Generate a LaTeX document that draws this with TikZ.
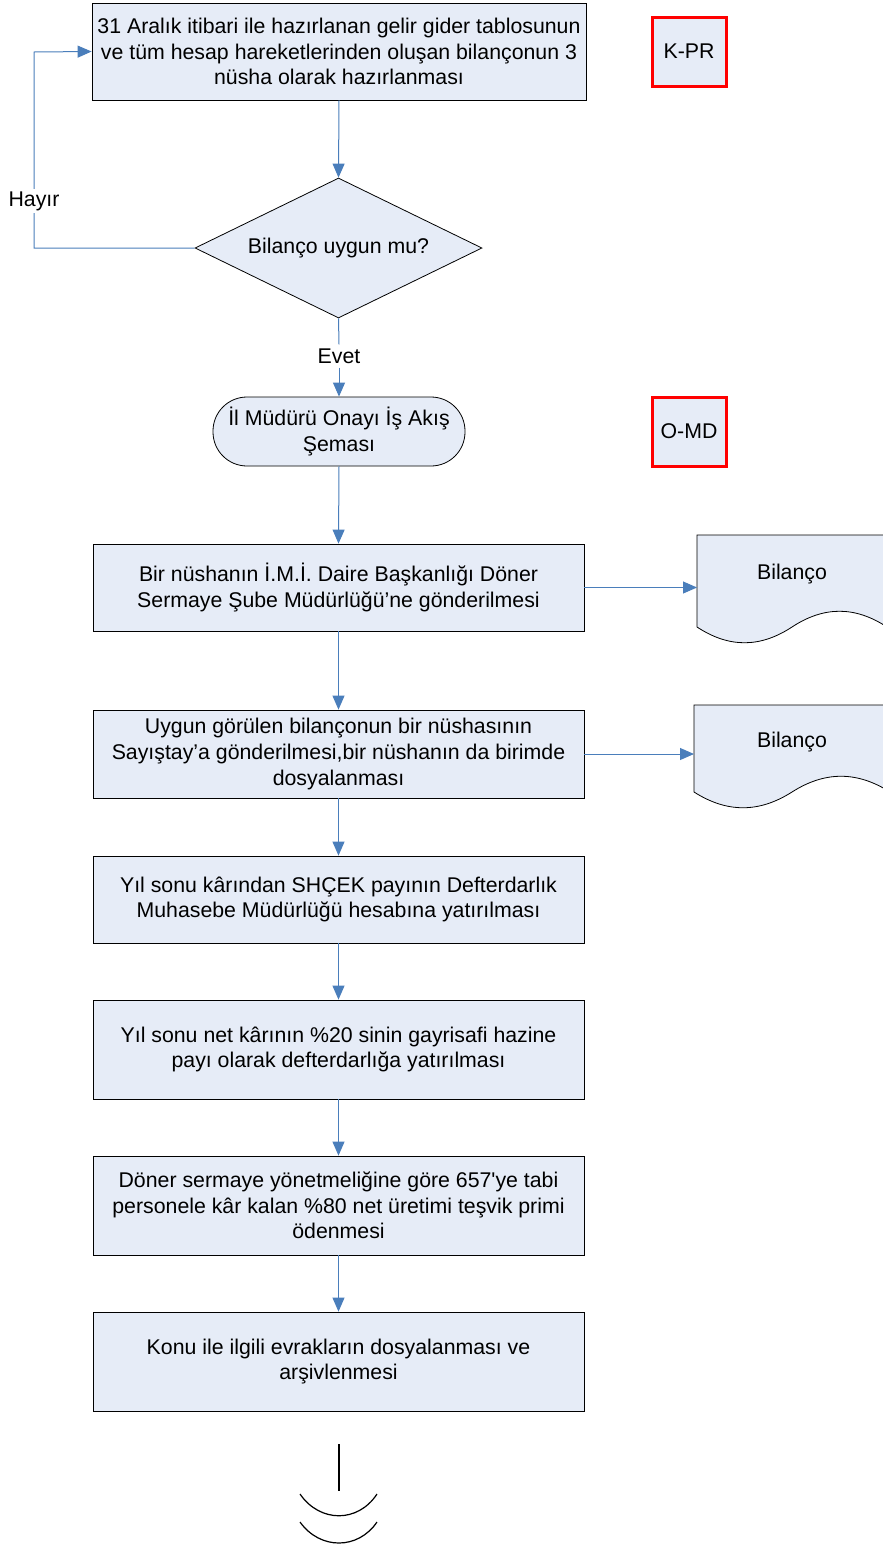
\documentclass[tikz,border=0pt]{standalone}
\usepackage{fontspec}
\setmainfont{Liberation Sans}
\usetikzlibrary{arrows.meta,shapes.geometric}
\definecolor{boxfill}{HTML}{E6ECF7}
\definecolor{conn}{HTML}{4A7EBB}
\tikzset{
  proc/.style={draw=black, line width=0.8pt, fill=boxfill, align=center, inner sep=0pt, minimum width=491pt, font=\fontsize{21.3}{25.7}\selectfont},
  tag/.style={draw=red, line width=3pt, fill=boxfill, inner sep=0pt, minimum width=74pt, minimum height=69pt, font=\fontsize{21.3}{25.7}\selectfont},
  conn/.style={draw=conn, line width=1pt},
  arr/.style={conn, -{Triangle[length=14pt,width=12pt]}},
  lbl/.style={fill=white, inner sep=2pt, font=\fontsize{21.3}{25.7}\selectfont},
  docline/.style={draw=black, line width=0.8pt, fill=boxfill},
}
\begin{document}
\begin{tikzpicture}[x=1pt,y=-1pt]
\clip (0,0) rectangle (883,1548);
\fill[white] (0,0) rectangle (883,1548);
% process boxes
\node[proc, minimum width=494pt, minimum height=97pt] (b1) at (339,51.5) {31 Aralık itibari ile hazırlanan gelir gider tablosunun\\ve tüm hesap hareketlerinden oluşan bilançonun 3\\nüsha olarak hazırlanması};
\node[tag] (kpr) at (689,51.5) {K-PR};
\node[diamond, draw=black, line width=0.8pt, fill=boxfill, minimum width=287pt, minimum height=140pt, inner sep=0pt, aspect=2.05, font=\fontsize{21.3}{25.7}\selectfont] (dia) at (338.5,248) {Bilanço uygun mu?};
\node[draw=black, line width=0.8pt, fill=boxfill, rounded corners=34pt, minimum width=252pt, minimum height=69pt, inner sep=0pt, align=center, font=\fontsize{21.3}{25.7}\selectfont] (term) at (339,431.5) {İl Müdürü Onayı İş Akış\\Şeması};
\node[tag] (omd) at (689,431.5) {O-MD};
\node[proc, minimum height=87pt] (b2) at (338.5,587.5) {Bir nüshanın İ.M.İ. Daire Başkanlığı Döner\\Sermaye Şube Müdürlüğü’ne gönderilmesi};
\node[proc, minimum height=88pt] (b3) at (338.5,754) {Uygun görülen bilançonun bir nüshasının\\Sayıştay’a gönderilmesi,bir nüshanın da birimde\\dosyalanması};
\node[proc, minimum height=87pt] (b4) at (338.5,899.5) {Yıl sonu kârından SHÇEK payının Defterdarlık\\Muhasebe Müdürlüğü hesabına yatırılması};
\node[proc, minimum height=99pt] (b5) at (338.5,1049.5) {Yıl sonu net kârının \%20 sinin gayrisafi hazine\\payı olarak defterdarlığa yatırılması};
\node[proc, minimum height=99pt] (b6) at (338.5,1205.5) {Döner sermaye yönetmeliğine göre 657\textquotesingle ye tabi\\personele kâr kalan \%80 net üretimi teşvik primi\\ödenmesi};
\node[proc, minimum height=99pt] (b7) at (338.5,1361.5) {Konu ile ilgili evrakların dosyalanması ve\\arşivlenmesi};
% documents
\path[docline] (697,535) -- (887,535) -- (887,627)
  .. controls (855,606) and (824,606) .. (792,627)
  .. controls (760,648) and (729,648) .. (697,627) -- cycle;
\node[inner sep=0pt, font=\fontsize{21.3}{25.7}\selectfont] (d1) at (792,574) {Bilanço};
\path[docline] (694,705) -- (890,705) -- (890,792)
  .. controls (857,771) and (825,771) .. (792,792)
  .. controls (759,813) and (727,813) .. (694,792) -- cycle;
\node[inner sep=0pt, font=\fontsize{21.3}{25.7}\selectfont] (d2) at (792,742) {Bilanço};
\coordinate (d1w) at (697,587.5);
\coordinate (d2w) at (694,754);
% connectors
\draw[arr] (b1.south) -- (dia.north);
\coordinate (hb) at (34,248);
\coordinate (ht) at (34,52);
\draw[arr] (dia.west) -- (hb) -- (ht) -- (b1.west);
\node[lbl] (hayir) at (34,201) {Hayır};
\node[lbl, inner sep=4pt] (evet) at (339,356) {Evet};
\draw[conn] (dia.south) -- (evet.north);
\draw[arr] (evet.south) -- (term.north);
\draw[arr] (term.south) -- (b2.north);
\draw[arr] (b2.east) -- (d1w);
\draw[arr] (b2.south) -- (b3.north);
\draw[arr] (b3.east) -- (d2w);
\draw[arr] (b3.south) -- (b4.north);
\draw[arr] (b4.south) -- (b5.north);
\draw[arr] (b5.south) -- (b6.north);
\draw[arr] (b6.south) -- (b7.north);
% off-page connector
\coordinate (opt) at (339,1444);
\coordinate (opb) at (339,1491);
\draw[black, line width=1.2pt] (opt) -- (opb);
\draw[black, line width=1.2pt] (300,1494) .. controls (320,1523) and (358,1523) .. (377,1494);
\draw[black, line width=1.2pt] (300,1522) .. controls (320,1550) and (358,1550) .. (377,1522);
\end{tikzpicture}
\end{document}
